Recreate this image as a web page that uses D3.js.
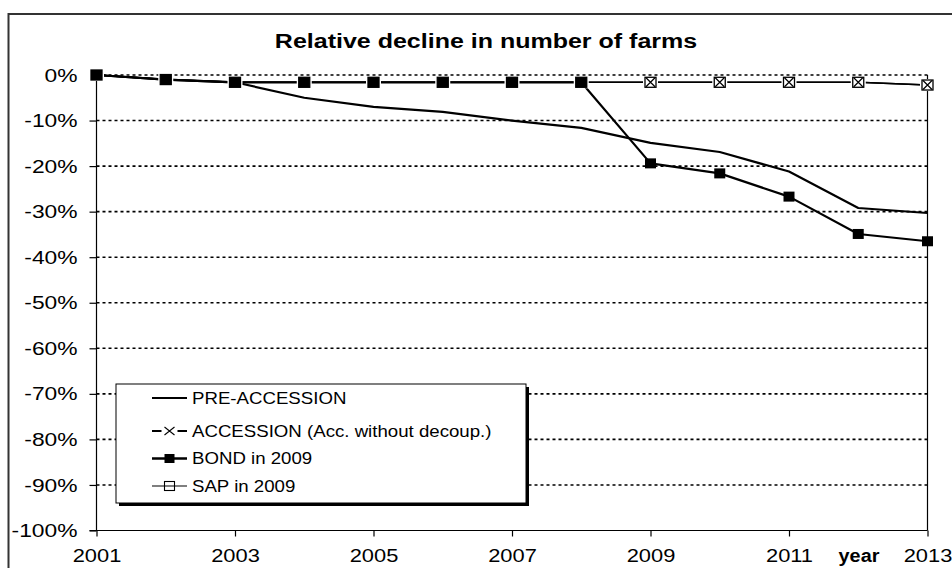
<!DOCTYPE html>
<html>
<head>
<meta charset="utf-8">
<script src="https://cdn.jsdelivr.net/npm/d3@7/dist/d3.min.js"></script>
<style>
  html, body { margin: 0; padding: 0; background: #fff; }
  svg { display: block; font-family: "Liberation Sans", Arial, sans-serif; }
</style>
</head>
<body>
<svg id="chart" width="952" height="568"></svg>
<script>
// Relative decline in number of farms, 2001-2013 (share of 2001 level, %)
const years = [2001, 2002, 2003, 2004, 2005, 2006, 2007, 2008, 2009, 2010, 2011, 2012, 2013];
const preAccession = [0, -1.0, -1.6, -5.0, -7.0, -8.1, -10.0, -11.6, -14.9, -16.9, -21.2, -29.2, -30.3];
const accession    = [0, -1.0, -1.6, -1.6, -1.6, -1.6, -1.6, -1.6, -1.6, -1.6, -1.6, -1.6, -2.2];
const bond2009     = [0, -1.0, -1.6, -1.6, -1.6, -1.6, -1.6, -1.6, -19.4, -21.6, -26.7, -34.9, -36.5];
const sap2009      = [0, -1.0, -1.6, -1.6, -1.6, -1.6, -1.6, -1.6, -1.6, -1.6, -1.6, -1.6, -2.2];
const yTicks = [0, -10, -20, -30, -40, -50, -60, -70, -80, -90, -100];
const xTicks = [2001, 2003, 2005, 2007, 2009, 2011, 2013];
const seriesNames = ["PRE-ACCESSION", "ACCESSION (Acc. without decoup.)", "BOND in 2009", "SAP in 2009"];
const titleText = "Relative decline in number of farms";
const xAxisName = "year";

const svg = d3.select("#chart");
const W = 952, H = 568;
const plot = { left: 96.5, right: 927.5, top: 75, bottom: 530.5 };

const x = d3.scaleLinear().domain([2001, 2013]).range([plot.left, plot.right]);
const y = d3.scaleLinear().domain([-100, 0]).range([plot.bottom, plot.top]);

// Widen text horizontally by factor k (the chart's lettering is broad)
function widen(sel, k) {
  sel.each(function () {
    const len = this.getComputedTextLength();
    d3.select(this).attr("textLength", len * k).attr("lengthAdjust", "spacingAndGlyphs");
  });
}

svg.append("rect").attr("width", W).attr("height", H).attr("fill", "#fff");

// Outer chart frame (runs off the right and bottom edges)
svg.append("rect")
  .attr("x", 8.5).attr("y", 14)
  .attr("width", 1000).attr("height", 700)
  .attr("fill", "none").attr("stroke", "#333").attr("stroke-width", 2);

// Title
svg.append("text")
  .attr("x", 486).attr("y", 48)
  .attr("text-anchor", "middle")
  .attr("font-size", 20).attr("font-weight", "bold")
  .text(titleText)
  .call(widen, 1.25);

// Dotted horizontal gridlines
svg.append("g").selectAll("line")
  .data(yTicks.filter(d => d > -100))
  .join("line")
  .attr("x1", plot.left).attr("x2", plot.right)
  .attr("y1", d => y(d)).attr("y2", d => y(d))
  .attr("stroke", "#000").attr("stroke-width", 1.6)
  .attr("stroke-dasharray", "3,3");

// Right edge of the plot area
svg.append("line")
  .attr("x1", plot.right).attr("x2", plot.right)
  .attr("y1", plot.top).attr("y2", plot.bottom)
  .attr("stroke", "#000").attr("stroke-width", 1.2);

// Y axis
const yAxis = d3.axisLeft(y)
  .tickValues(yTicks)
  .tickSize(7)
  .tickPadding(12)
  .tickFormat(d => d + "%");
const gy = svg.append("g").attr("transform", `translate(${plot.left},0)`).call(yAxis);
gy.select(".domain").attr("stroke", "#000").attr("stroke-width", 1.2).attr("d", `M-7,${plot.top}H0V${plot.bottom}H-7`);
gy.selectAll(".tick line").attr("stroke", "#000").attr("stroke-width", 1.2);
gy.selectAll(".tick text")
  .attr("font-size", 19).attr("fill", "#000")
  .attr("font-family", "Liberation Sans, Arial, sans-serif")
  .call(widen, 1.2);

// X axis
const xAxis = d3.axisBottom(x)
  .tickValues(xTicks)
  .tickSize(6)
  .tickPadding(12)
  .tickFormat(d3.format("d"));
const gx = svg.append("g").attr("transform", `translate(0,${plot.bottom})`).call(xAxis);
gx.select(".domain").attr("stroke", "#000").attr("stroke-width", 1.2).attr("d", `M${plot.left},0H${plot.right}`);
gx.selectAll(".tick line").attr("stroke", "#000").attr("stroke-width", 1.2);
gx.selectAll(".tick text")
  .attr("font-size", 19).attr("fill", "#000")
  .attr("font-family", "Liberation Sans, Arial, sans-serif")
  .call(widen, 1.15);

svg.append("text")
  .attr("x", 859).attr("y", 562)
  .attr("text-anchor", "middle")
  .attr("font-size", 18).attr("font-weight", "bold")
  .text(xAxisName)
  .call(widen, 1.1);

// Series lines
const line = d3.line().x((d, i) => x(years[i])).y(d => y(d));
function drawLine(values, width) {
  svg.append("path").datum(values)
    .attr("d", line)
    .attr("fill", "none").attr("stroke", "#000")
    .attr("stroke-width", width).attr("stroke-linejoin", "round");
}
drawLine(preAccession, 2.2);
drawLine(sap2009, 1.6);
drawLine(accession, 1.6);
drawLine(bond2009, 2.2);

// SAP markers: open squares on a white halo
const mk = 10;
const gSap = svg.append("g");
gSap.selectAll("rect.halo").data(sap2009).join("rect")
  .attr("class", "halo")
  .attr("x", (d, i) => x(years[i]) - mk / 2 - 2.5).attr("y", d => y(d) - mk / 2 - 1)
  .attr("width", mk + 5).attr("height", mk + 2)
  .attr("fill", "#fff");
gSap.selectAll("rect.box").data(sap2009).join("rect")
  .attr("class", "box")
  .attr("x", (d, i) => x(years[i]) - mk / 2 - 0.5).attr("y", d => y(d) - mk / 2)
  .attr("width", mk + 1).attr("height", mk)
  .attr("fill", "#fff").attr("stroke", "#000").attr("stroke-width", 1.3);

// ACCESSION markers: crosses
const cx = 4.5;
svg.append("g").selectAll("path").data(accession).join("path")
  .attr("d", (d, i) => {
    const px = x(years[i]), py = y(d);
    return `M${px - cx},${py - cx}L${px + cx},${py + cx}M${px - cx},${py + cx}L${px + cx},${py - cx}`;
  })
  .attr("stroke", "#000").attr("stroke-width", 1.2).attr("fill", "none");

// BOND markers: filled squares
svg.append("g").selectAll("rect").data(bond2009).join("rect")
  .attr("x", (d, i) => x(years[i]) - mk / 2 - 0.5).attr("y", d => y(d) - mk / 2)
  .attr("width", mk + 1).attr("height", mk)
  .attr("fill", "#000");

// Legend box with drop shadow
const lg = { x: 116, y: 384, w: 410, h: 119 };
svg.append("rect")
  .attr("x", lg.x + 3).attr("y", lg.y + 3).attr("width", lg.w).attr("height", lg.h)
  .attr("fill", "#000");
svg.append("rect")
  .attr("x", lg.x).attr("y", lg.y).attr("width", lg.w).attr("height", lg.h)
  .attr("fill", "#fff").attr("stroke", "#000").attr("stroke-width", 1);

const rowY = [398, 431, 458.5, 486];
const sx1 = 152, sx2 = 187, smid = (sx1 + sx2) / 2;
const legendG = svg.append("g");

// PRE-ACCESSION sample
legendG.append("line").attr("x1", sx1).attr("x2", sx2).attr("y1", rowY[0]).attr("y2", rowY[0])
  .attr("stroke", "#000").attr("stroke-width", 2);
// ACCESSION sample: line broken around a cross
legendG.append("path")
  .attr("d", `M${sx1},${rowY[1]}H${smid - 8}M${smid + 8},${rowY[1]}H${sx2}`)
  .attr("stroke", "#000").attr("stroke-width", 1.8);
legendG.append("path")
  .attr("d", `M${smid - 5},${rowY[1] - 4}L${smid + 5},${rowY[1] + 4}M${smid - 5},${rowY[1] + 4}L${smid + 5},${rowY[1] - 4}`)
  .attr("stroke", "#000").attr("stroke-width", 1.1);
// BOND sample
legendG.append("line").attr("x1", sx1).attr("x2", sx2).attr("y1", rowY[2]).attr("y2", rowY[2])
  .attr("stroke", "#000").attr("stroke-width", 2.4);
legendG.append("rect").attr("x", smid - 5).attr("y", rowY[2] - 4.5).attr("width", 10).attr("height", 9)
  .attr("fill", "#000");
// SAP sample
legendG.append("line").attr("x1", sx1).attr("x2", sx2).attr("y1", rowY[3]).attr("y2", rowY[3])
  .attr("stroke", "#000").attr("stroke-width", 1.2);
legendG.append("rect").attr("x", smid - 5).attr("y", rowY[3] - 4.5).attr("width", 10).attr("height", 9)
  .attr("fill", "none").attr("stroke", "#000").attr("stroke-width", 1.1);

legendG.selectAll("text").data(seriesNames).join("text")
  .attr("x", 192).attr("y", (d, i) => rowY[i])
  .attr("dy", "0.35em")
  .attr("font-size", 16.5).attr("fill", "#000")
  .text(d => d)
  .call(widen, 1.13);
</script>
</body>
</html>
